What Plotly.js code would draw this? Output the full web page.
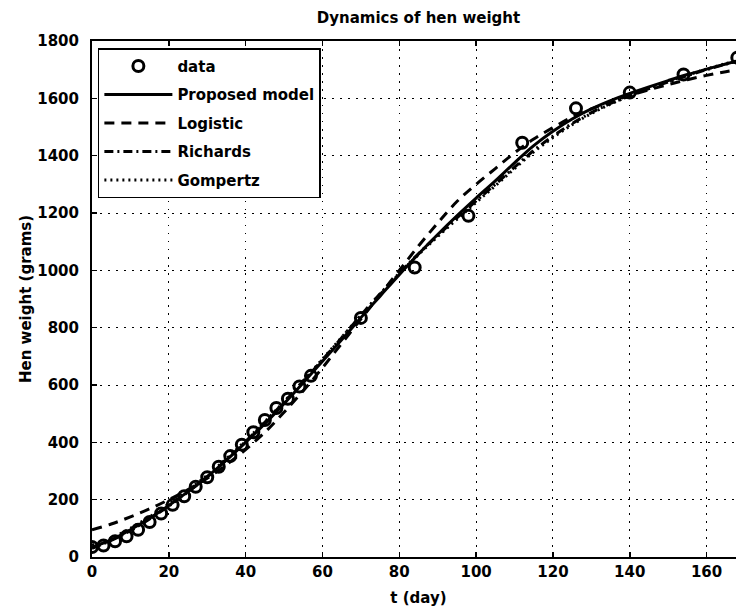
<!DOCTYPE html>
<html>
<head>
<meta charset="utf-8">
<script src="https://cdn.plot.ly/plotly-3.0.1.min.js"></script>
<style>
  html, body { margin: 0; padding: 0; overflow: hidden; background: #fff; }
  #chart { width: 746px; height: 613px; }
</style>
</head>
<body>
<div id="chart"></div>
<script>
// Measured hen weights (grams) by age (days)
const dataDays = [0, 3, 6, 9, 12, 15, 18, 21, 24, 27, 30, 33, 36, 39, 42, 45, 48, 51, 54, 57,
                  70, 84, 98, 112, 126, 140, 154, 168];
const dataWeight = [35, 40, 55, 72, 95, 122, 152, 182, 212, 245, 278, 315, 352, 392, 435, 478, 520, 552, 595, 632,
                    834, 1010, 1190, 1445, 1565, 1620, 1683, 1742];

// Fitted model curves, tabulated by day
const modelDays = [0, 5, 10, 15, 20, 25, 30, 35, 40, 45, 50, 55, 60, 65, 70, 75, 80, 85, 90, 95,
                   100, 105, 110, 115, 120, 125, 130, 135, 140, 145, 150, 155, 160, 165, 170];
const proposed = [35, 60, 95, 135, 180, 228, 280, 338, 400, 465, 535, 608, 683, 758, 835, 910, 985, 1057, 1125, 1190,
                  1252, 1312, 1375, 1435, 1485, 1528, 1563, 1592, 1617, 1640, 1662, 1683, 1702, 1720, 1738];
const logistic = [95, 115, 140, 168, 200, 235, 275, 322, 375, 435, 505, 580, 660, 745, 830, 915, 1000, 1085, 1165, 1240,
                  1300, 1355, 1410, 1458, 1498, 1535, 1563, 1588, 1610, 1630, 1648, 1665, 1680, 1693, 1705];
const richards = [30, 58, 92, 133, 178, 227, 280, 340, 403, 470, 540, 613, 688, 765, 843, 918, 990, 1058, 1122, 1183,
                  1242, 1300, 1360, 1418, 1468, 1512, 1550, 1582, 1609, 1634, 1657, 1679, 1700, 1719, 1736];
const gompertz = [42, 65, 100, 140, 185, 233, 285, 343, 406, 472, 542, 615, 690, 766, 843, 917, 988, 1055, 1118, 1178,
                  1237, 1295, 1355, 1413, 1463, 1508, 1547, 1580, 1609, 1635, 1659, 1681, 1702, 1721, 1739];

const legendLabels = ['data', 'Proposed model', 'Logistic', 'Richards', 'Gompertz'];

const FONT = 'DejaVu Sans, Liberation Sans, sans-serif';
const lineW = 3;

const traces = [
  {
    x: dataDays, y: dataWeight, name: legendLabels[0], legendgroup: 'a',
    type: 'scatter', mode: 'markers',
    marker: { symbol: 'circle-open', size: 11, color: '#000', line: { width: 3, color: '#000' } }
  },
  {
    x: modelDays, y: proposed, name: legendLabels[1], legendgroup: 'b',
    type: 'scatter', mode: 'lines',
    line: { color: '#000', width: lineW, shape: 'spline', dash: 'solid' }
  },
  {
    x: modelDays, y: logistic, name: legendLabels[2], legendgroup: 'c',
    type: 'scatter', mode: 'lines',
    line: { color: '#000', width: lineW, shape: 'spline', dash: '10px,7px' }
  },
  {
    x: modelDays, y: richards, name: legendLabels[3], legendgroup: 'd',
    type: 'scatter', mode: 'lines',
    line: { color: '#000', width: lineW, shape: 'spline', dash: '9px,4px,2px,4px' }
  },
  {
    x: modelDays, y: gompertz, name: legendLabels[4], legendgroup: 'e',
    type: 'scatter', mode: 'lines',
    line: { color: '#000', width: lineW, shape: 'spline', dash: '2px,4px' }
  }
];

const axisCommon = {
  showline: true, linecolor: '#000', linewidth: 2,
  mirror: 'ticks', ticks: 'inside', ticklen: 5, tickwidth: 1.5, tickcolor: '#000',
  showgrid: true, gridcolor: '#000', gridwidth: 1, griddash: '1.5px,6.5px',
  zeroline: false,
  tickfont: { family: FONT, size: 15, color: '#000', weight: 'bold' }
};

const layout = {
  width: 746, height: 613,
  margin: { l: 92, r: 1, t: 41, b: 56 },
  paper_bgcolor: '#fff', plot_bgcolor: '#fff',
  font: { family: FONT, color: '#000' },
  title: {
    text: 'Dynamics of hen weight',
    font: { family: FONT, size: 15, color: '#000', weight: 'bold' },
    x: 0.5, xref: 'paper', xanchor: 'center',
    y: 1 - 18 / 613, yref: 'container', yanchor: 'middle'
  },
  xaxis: Object.assign({}, axisCommon, {
    range: [0, 170], tickmode: 'array',
    tickvals: [0, 20, 40, 60, 80, 100, 120, 140, 160],
    title: { text: 't (day)', font: { family: FONT, size: 15, color: '#000', weight: 'bold' }, standoff: 12 }
  }),
  yaxis: Object.assign({}, axisCommon, {
    range: [0, 1800], tickmode: 'array', ticklabelstandoff: 8,
    tickvals: [0, 200, 400, 600, 800, 1000, 1200, 1400, 1600, 1800],
    title: { text: 'Hen weight (grams)', font: { family: FONT, size: 15, color: '#000', weight: 'bold' }, standoff: 2 }
  }),
  showlegend: true,
  legend: {
    x: 0.009, y: 0.986, xanchor: 'left', yanchor: 'top',
    bgcolor: '#fff', bordercolor: '#000', borderwidth: 1.5,
    font: { family: FONT, size: 15, color: '#000', weight: 'bold' },
    traceorder: 'grouped', tracegroupgap: 6, itemwidth: 68
  }
};

Plotly.newPlot('chart', traces, layout, { displayModeBar: false, staticPlot: true });
</script>
</body>
</html>
